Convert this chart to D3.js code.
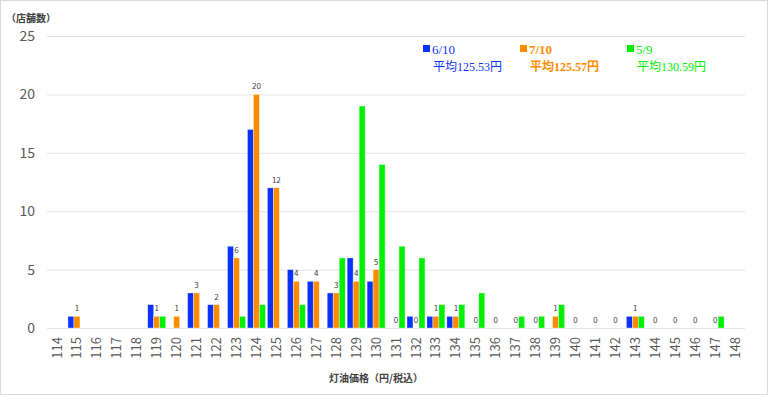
<!DOCTYPE html>
<html>
<head>
<meta charset="utf-8">
<script src="https://cdn.jsdelivr.net/npm/d3@7"></script>
<style>
  body { margin: 0; background: #fff; }
  svg { font-family: "Noto Sans CJK JP", "Noto Sans", sans-serif; }
</style>
</head>
<body>
<svg></svg>
<script>
const prices = d3.range(114, 149),
      seriesNames = ['6/10', '7/10', '5/9'],
      averages = ['平均125.53円', '平均125.57円', '平均130.59円'],
      colors = ['#0a32ff', '#ff8c00', '#00f000'],
      // null = no entry for that price
      june = [null, 1, null, null, null, 2, 0, 3, 2, 7, 17, 12, 5, 4, 3, 6, 4, 0, 1, 1, 1, 0, 0, 0, 0, 0, 0, 0, 0, 1, 0, 0, 0, 0, null],
      july = [null, 1, null, null, null, 1, 1, 3, 2, 6, 20, 12, 4, 4, 3, 4, 5, 0, 0, 1, 1, 0, 0, 0, 0, 1, 0, 0, 0, 1, 0, 0, 0, 0, null],
      may = [null, 0, null, null, null, 1, 0, 0, 0, 1, 2, 0, 2, 0, 6, 19, 14, 7, 6, 2, 2, 3, 0, 1, 1, 2, 0, 0, 0, 1, 0, 0, 0, 1, null],
      yTicks = [0, 5, 10, 15, 20, 25];

const width = 768,
      height = 395,
      plotLeft = 47,
      plotRight = 745,
      plotTop = 36,
      plotBottom = 328,
      series = [june, july, may],
      xScale = d3.scaleBand()
                 .domain(prices)
                 .range([plotLeft, plotRight]),
      subScale = d3.scaleBand()
                   .domain([0, 1, 2])
                   .range([1, 19]),
      yScale = d3.scaleLinear()
                 .domain([0, 25])
                 .range([plotBottom, plotTop]);

const svg = d3.select('svg')
    .attr('width', width)
    .attr('height', height);

svg.append('rect')
    .attr('x', 0.5)
    .attr('y', 0.5)
    .attr('width', width - 1)
    .attr('height', height - 1)
    .attr('fill', '#fff')
    .attr('stroke', '#d9d9d9');

svg.append('g')
  .selectAll('line')
  .data(yTicks)
  .enter()
  .append('line')
    .attr('x1', plotLeft)
    .attr('x2', plotRight)
    .attr('y1', (d) => yScale(d) + 0.5)
    .attr('y2', (d) => yScale(d) + 0.5)
    .attr('stroke', '#e3e3e3')
    .attr('stroke-width', 1);

svg.append('g')
  .selectAll('text')
  .data(yTicks)
  .enter()
  .append('text')
    .text((d) => d)
    .attr('x', 35)
    .attr('y', (d) => yScale(d))
    .attr('dy', '0.35em')
    .attr('fill', '#595959')
    .style('font-size', '14px')
    .style('text-anchor', 'end');

svg.append('g')
  .selectAll('text')
  .data(prices)
  .enter()
  .append('text')
    .text((d) => d)
    .attr('transform', (d) => `translate(${xScale(d) + xScale.bandwidth() / 2}, 337) rotate(-90)`)
    .attr('dy', '0.35em')
    .attr('fill', '#595959')
    .style('font-size', '13px')
    .style('text-anchor', 'end');

series.forEach((values, i) => {
  svg.append('g')
    .selectAll('rect')
    .data(prices.map((p, j) => ({ price: p, value: values[j] })).filter((d) => d.value))
    .enter()
    .append('rect')
      .attr('x', (d) => xScale(d.price) + subScale(i))
      .attr('y', (d) => yScale(d.value))
      .attr('width', subScale.bandwidth())
      .attr('height', (d) => plotBottom - yScale(d.value))
      .attr('fill', colors[i])
      .attr('stroke', '#ffffff')
      .attr('stroke-opacity', 0.6)
      .attr('stroke-width', 0.6);
});

svg.append('g')
  .selectAll('text')
  .data(prices.map((p, j) => ({ price: p, value: july[j] })).filter((d) => d.value !== null))
  .enter()
  .append('text')
    .text((d) => d.value)
    .attr('x', (d) => xScale(d.price) + subScale(1) + subScale.bandwidth() / 2)
    .attr('y', (d) => yScale(d.value) - 5)
    .attr('fill', '#404040')
    .style('font-size', '8px')
    .style('text-anchor', 'middle');

const legend = svg.append('g')
  .selectAll('g')
  .data(seriesNames)
  .enter()
  .append('g')
    .attr('transform', (d, i) => `translate(${[423, 520, 627][i]}, 0)`)
    .style('font-family', '"Liberation Serif", "Noto Sans CJK JP", serif')
    .style('font-weight', (d, i) => i === 1 ? 'bold' : 'normal')
    .attr('fill', (d, i) => colors[i]);

legend.append('rect')
    .attr('x', 0)
    .attr('y', 45)
    .attr('width', 7)
    .attr('height', 7);

legend.append('text')
    .text((d) => d)
    .attr('x', 9)
    .attr('y', 54)
    .style('font-size', '13px');

legend.append('text')
    .text((d, i) => averages[i])
    .attr('x', 10)
    .attr('y', 71)
    .style('font-size', '12px');

svg.append('text')
    .text('（店舗数）')
    .attr('x', 6)
    .attr('y', 22)
    .attr('fill', '#404040')
    .style('font-size', '10px')
    .style('font-weight', 'bold');

svg.append('text')
    .text('灯油価格（円/税込）')
    .attr('x', 376)
    .attr('y', 382)
    .attr('fill', '#404040')
    .style('font-size', '10px')
    .style('font-weight', 'bold')
    .style('text-anchor', 'middle');
</script>
</body>
</html>
